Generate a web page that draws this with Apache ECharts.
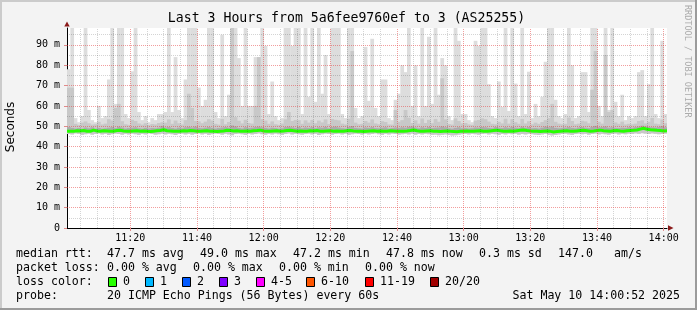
<!DOCTYPE html>
<html>
<head>
    <meta charset="utf-8">
    <title>SmokePing - Last 3 Hours</title>
    <script src="https://cdn.jsdelivr.net/npm/echarts@6/dist/echarts.min.js"></script>
    <style>html,body{margin:0;padding:0;background:#f3f3f3;}</style>
</head>
<body>
    <div id="main" style="width: 697px;height:310px;"></div>
    <script type="text/javascript">
        // one sample per minute, minutes counted from 11:00
        var firstMinute = 1;
        var tickMinutes = [20, 40, 60, 80, 100, 120, 140, 160, 180];
        var minorMinutes = [5, 10, 15, 25, 30, 35, 45, 50, 55, 65, 70, 75, 85, 90, 95, 105, 110, 115,
            125, 130, 135, 145, 150, 155, 165, 170, 175];
        var yTicks = [0, 10, 20, 30, 40, 50, 60, 70, 80, 90];
        var yMinor = [5, 15, 25, 35, 45, 55, 65, 75, 85, 95];

        // median rtt (ms)
        var median = [
            47.6,47.5,47.8,47.7,47.9,47.6,47.5,48.1,47.7,47.6,47.8,47.7,47.5,47.6,47.9,48.0,47.7,47.6,47.5,47.7,
            47.8,47.6,47.7,47.5,47.4,47.6,47.8,47.9,48.3,47.8,47.7,47.6,47.5,47.6,47.8,47.7,47.9,47.8,47.6,47.5,
            47.7,47.8,47.6,47.5,47.4,47.6,47.7,48.0,47.9,47.7,47.8,47.6,47.5,47.7,47.6,47.8,47.9,48.1,47.7,47.6,
            47.5,47.7,47.8,47.6,47.7,47.9,48.0,47.8,47.6,47.7,47.5,47.6,47.8,47.7,47.9,47.6,47.5,47.7,47.8,47.6,
            47.7,47.5,47.6,47.8,47.9,47.7,47.6,47.5,47.4,47.6,47.7,47.8,47.6,47.7,47.5,47.6,47.8,47.7,47.6,47.5,
            47.6,47.7,47.9,48.2,47.8,47.6,47.5,47.7,47.8,47.6,47.5,47.4,47.6,47.7,47.5,47.4,47.3,47.5,47.6,47.7,
            47.6,47.5,47.7,47.8,47.6,47.5,47.7,47.9,48.1,47.8,47.6,47.5,47.7,47.6,47.8,48.0,48.2,47.9,47.7,47.6,
            47.5,47.4,47.6,47.7,47.5,47.2,47.4,47.6,47.7,47.8,47.6,47.5,47.7,47.9,48.0,47.8,47.6,47.7,47.9,48.1,
            47.8,47.7,47.6,47.8,47.9,47.7,47.6,47.8,47.9,48.0,48.2,48.6,49.0,48.5,48.3,48.2,48.0,47.9,47.7,47.8
        ];
        // fastest ping of each round
        var minPing = [
            46.2,46.0,46.5,46.3,45.8,46.1,46.4,45.9,46.2,46.5,46.0,46.3,45.7,46.1,46.4,46.2,45.9,46.3,46.0,46.4,
            46.1,45.8,46.3,46.0,46.5,46.2,45.9,46.1,46.4,46.0,46.3,46.1,45.7,46.2,46.4,46.0,46.3,45.9,46.2,46.5,
            46.0,46.3,45.8,46.1,46.4,46.2,45.9,46.3,46.0,45.6,46.2,46.4,46.1,45.8,46.3,46.0,46.2,46.5,46.1,45.9,
            46.3,46.0,46.4,46.1,45.8,46.2,46.5,46.0,46.3,46.1,45.9,46.2,46.4,46.0,46.3,45.7,46.1,46.4,46.2,45.9,
            46.2,46.4,46.0,46.3,45.8,46.1,46.4,46.2,45.9,46.3,46.0,46.2,46.5,46.1,45.8,46.3,46.0,46.4,46.2,45.9,
            46.1,46.3,46.0,46.4,45.9,46.2,46.0,46.3,46.1,45.8,45.9,45.6,45.8,46.0,45.7,45.5,45.6,45.9,46.1,46.2,
            46.0,46.3,46.1,45.9,46.2,46.4,46.0,46.3,46.1,45.8,46.2,46.0,46.4,46.1,46.3,45.9,46.2,46.0,46.3,46.1,
            45.9,45.7,46.0,46.2,45.8,45.5,45.7,46.0,46.2,46.3,46.0,45.8,46.2,46.4,46.1,46.3,45.9,46.2,46.4,46.0,
            46.3,46.1,45.9,46.2,46.4,46.0,46.3,46.1,46.4,46.2,46.5,46.3,46.6,46.4,46.2,46.5,46.3,46.1,46.2,46.4
        ];
        // dense smoke just above the median
        var upperQ = [
            49.6,49.2,48.9,49.1,48.8,49.4,49.0,49.5,48.9,49.2,48.8,49.0,49.3,49.6,49.1,49.8,49.4,48.9,49.1,49.3,
            49.5,49.0,48.8,49.2,48.9,49.1,49.0,49.3,50.2,49.4,49.6,49.1,48.9,49.3,49.0,49.5,49.7,49.4,49.8,49.2,
            49.0,49.3,49.6,49.2,48.9,49.1,49.4,49.6,49.3,50.4,49.9,49.2,48.9,49.5,49.1,49.3,49.6,49.8,49.5,49.2,
            48.9,49.3,49.1,48.8,49.0,49.6,49.8,49.5,49.2,49.7,49.0,49.4,49.2,49.6,49.1,49.5,49.3,49.7,49.0,49.6,
            49.8,49.4,49.0,48.9,49.6,50.1,49.2,49.0,48.9,49.4,49.2,49.6,49.1,49.0,49.3,49.5,48.9,49.1,49.4,49.2,
            49.5,49.3,49.7,49.9,49.4,49.0,49.5,49.2,49.6,49.1,49.3,49.4,49.9,49.5,49.0,48.8,49.2,49.5,49.0,49.1,
            48.9,49.0,49.4,49.3,49.6,49.5,49.2,49.0,49.6,49.3,49.1,49.5,49.2,49.7,49.3,49.1,49.8,49.3,49.6,49.0,
            49.1,48.9,49.3,49.8,49.5,49.9,49.2,49.0,49.1,49.3,49.6,49.2,49.0,49.4,49.6,49.3,49.1,49.7,50.2,49.5,
            49.6,49.9,49.3,49.5,49.2,49.1,49.3,49.2,49.5,49.3,49.6,49.8,50.3,49.9,49.7,49.5,49.4,49.6,50.1,49.5
        ];
        // second-slowest ping (darker smoke)
        var midPing = [
            69,69,51.2,50.6,51.8,52.4,51.5,50.8,51.0,52.2,50.9,51.3,53.5,52.8,59,61,52.5,51.0,50.7,53.2,
            52.6,51.4,50.8,51.5,50.6,51.1,50.9,51.6,52.0,51.8,53.4,51.2,52.8,51.5,50.9,53.0,66,59,52.6,52.4,
            51.5,52.3,53.5,52.8,51.2,50.8,53.6,51.0,52.1,99,54.5,52.7,51.4,53.2,51.6,51.3,60,84,53.5,52.8,
            51.2,52.4,51.0,50.7,51.3,53.4,57,52.6,53.1,53.0,51.2,52.9,51.8,53.1,51.5,52.8,51.9,53.4,51.1,53.6,
            53.2,52.9,51.3,50.9,53.7,87,51.8,51.0,51.2,52.6,51.8,53.4,51.4,51.0,52.5,52.1,50.9,50.8,58,52.2,
            53.0,58,54.2,51.6,52.9,51.3,53.8,51.6,53.2,51.5,53.6,52.2,73.6,53.4,51.1,50.8,53.9,52.6,51.4,51.6,
            50.9,50.7,52.8,53.1,53.9,53.5,52.3,51.2,51.0,52.2,51.4,53.7,51.3,53.5,52.0,51.2,53.6,51.4,52.5,51.0,
            51.8,51.2,52.1,53.0,54.0,61,52.2,51.3,51.0,51.2,54.3,52.6,51.0,51.3,52.7,52.4,51.5,68,87,52.2,
            51.3,85,57,58,51.9,51.2,52.3,50.9,51.2,51.0,51.3,52.6,52.9,51.4,52.2,54.1,51.3,51.0,53.3,51.5
        ];
        // slowest ping of each round (99 = off the top of the graph)
        var maxPing = [
            78,99,54,52,55,99,58,53,52,60,54,55,73,99,61,99,99,56,54,77,
            99,57,53,55,52,54,53,56,56,57,99,57,84,58,54,73,99,99,99,69,
            60,63,99,99,57,54,95,55,65.5,99,99,83.5,60,99,60,60,84,84,99,89.5,
            56,72,55,53,54,99,99,89.5,99,99,56,99,64.5,99,62,99,66,85,56,99,
            99,99,56,54,99,99,59,54,55,89,62.5,93,59,55,73,73,54,53,63,66,
            80,76.6,99,60,80,55,99,60,94,61,99,65.5,83.5,80,55,53,99,92,56,56,
            53,52,92,89.5,99,99,70.7,55,54,72,59.5,99,57.5,99,71,55,99,56,76.8,54,
            61,55,64.5,81.7,99,99,63,55,54,56,99,80,54,55,76.6,76.6,57,99,99,60,
            55,99,58,99,62,55,65.5,53,55,54,55,76.6,77.6,55,70.7,99,56,54,92,56
        ];

        var monoFont = "'DejaVu Sans Mono', monospace";

        function smokeData(lo, hi) {
            var arr = [];
            for (var i = 0; i < hi.length; i++) {
                arr.push([firstMinute + i, firstMinute + i + 1, lo[i], hi[i]]);
            }
            return arr;
        }

        function smokeItem(params, api) {
            var p0 = api.coord([api.value(0), api.value(3)]);
            var p1 = api.coord([api.value(1), api.value(2)]);
            var rect = echarts.graphic.clipRectByRect({
                x: p0[0], y: p0[1], width: p1[0] - p0[0] + 0.4, height: p1[1] - p0[1]
            }, {
                x: params.coordSys.x, y: params.coordSys.y,
                width: params.coordSys.width, height: params.coordSys.height
            });
            return rect && { type: 'rect', shape: rect, style: api.style() };
        }

        function gridLines(values, axis, color) {
            return values.map(function (v) {
                var d = { lineStyle: { color: color, type: [1, 1], width: 1 } };
                d[axis] = v;
                return d;
            });
        }

        var medianLine = median.map(function (v, i) { return [firstMinute + i, v]; });
        medianLine.push([firstMinute + median.length, median[median.length - 1]]);

        function txt(x, y, text, extra) {
            var st = { text: text, fill: '#000', font: '11.6px ' + monoFont, verticalAlign: 'middle' };
            for (var k in extra) st[k] = extra[k];
            return { type: 'text', x: x, y: y, silent: true, style: st };
        }

        // loss colour legend
        var lossLabels = ['0', '1', '2', '3', '4-5', '6-10', '11-19', '20/20'];
        var lossColors = ['#26ff00', '#00b8ff', '#0059ff', '#7e00ff', '#ff00ff', '#ff5500', '#ff0000', '#a10000'];
        var lossBoxX = [108.5, 145.5, 182.5, 219.5, 256.5, 306.5, 365.5, 430.5];

        var graphics = [
            { type: 'rect', shape: { x: 0, y: 0, width: 697, height: 2 }, style: { fill: '#cbcbcb' }, silent: true },
            { type: 'rect', shape: { x: 0, y: 0, width: 2, height: 310 }, style: { fill: '#cbcbcb' }, silent: true },
            { type: 'rect', shape: { x: 0, y: 308, width: 697, height: 2 }, style: { fill: '#9b9b9b' }, silent: true },
            { type: 'rect', shape: { x: 695, y: 0, width: 2, height: 310 }, style: { fill: '#9b9b9b' }, silent: true },
            txt(346.5, 19, 'Last 3 Hours from 5a6fee9760ef to 3 (AS25255)', { font: '13.2px ' + monoFont, align: 'center' }),
            { type: 'text', x: 11, y: 127, rotation: Math.PI / 2, silent: true,
              style: { text: 'Seconds', fill: '#000', font: "12px 'DejaVu Sans'", align: 'center', verticalAlign: 'middle' } },
            { type: 'text', x: 687.5, y: 5, rotation: -Math.PI / 2, silent: true,
              style: { text: 'RRDTOOL / TOBI OETIKER', fill: '#ababab', font: '8.5px ' + monoFont, align: 'left', verticalAlign: 'middle' } },
            // axis arrows
            { type: 'polygon', shape: { points: [[64.3, 26.5], [67, 21.5], [69.7, 26.5]] }, style: { fill: '#8b1a1a' }, silent: true },
            { type: 'polygon', shape: { points: [[668, 225.3], [673.5, 228], [668, 230.7]] }, style: { fill: '#8b1a1a' }, silent: true },
            // statistics
            txt(16, 254, 'median rtt:'),
            txt(107, 254, '47.7 ms avg'),
            txt(200, 254, '49.0 ms max'),
            txt(293, 254, '47.2 ms min'),
            txt(386, 254, '47.8 ms now'),
            txt(479, 254, '0.3 ms sd'),
            txt(558, 254, '147.0'),
            txt(614, 254, 'am/s'),
            txt(16, 268, 'packet loss:'),
            txt(107, 268, '0.00 % avg'),
            txt(193, 268, '0.00 % max'),
            txt(279, 268, '0.00 % min'),
            txt(365, 268, '0.00 % now'),
            txt(16, 282, 'loss color:'),
            txt(16, 296, 'probe:'),
            txt(107, 296, '20 ICMP Echo Pings (56 Bytes) every 60s'),
            txt(680, 296, 'Sat May 10 14:00:52 2025', { align: 'right' })
        ];
        for (var i = 0; i < lossLabels.length; i++) {
            graphics.push({ type: 'rect', silent: true, shape: { x: lossBoxX[i], y: 277.5, width: 8, height: 9 },
                style: { fill: lossColors[i], stroke: '#000', lineWidth: 1 } });
            graphics.push(txt(lossBoxX[i] + 14.5, 282, lossLabels[i]));
        }

        var myChart = echarts.init(document.getElementById('main'));
        var option = {
            backgroundColor: '#f3f3f3',
            animation: false,
            grid: { left: 67, top: 28, width: 600, height: 200, show: true, backgroundColor: '#ffffff', borderWidth: 0 },
            xAxis: {
                type: 'value', min: 1, max: 181,
                splitLine: { show: false },
                axisLine: { onZero: false, lineStyle: { color: '#000', width: 1 } },
                axisTick: { customValues: tickMinutes, length: 3, lineStyle: { color: '#e08a8a' } },
                axisLabel: {
                    customValues: tickMinutes, margin: 5, color: '#000', fontSize: 10, fontFamily: monoFont,
                    formatter: function (v) {
                        var h = 11 + Math.floor(v / 60), m = v % 60;
                        return h + ':' + (m < 10 ? '0' + m : m);
                    }
                }
            },
            yAxis: {
                type: 'value', min: 0, max: 98.3,
                splitLine: { show: false },
                axisLine: { show: true, onZero: false, lineStyle: { color: '#000', width: 1 } },
                axisTick: { show: true, customValues: yTicks, length: 3, lineStyle: { color: '#e08a8a' } },
                axisLabel: {
                    customValues: yTicks, margin: 7, color: '#000', fontSize: 10, fontFamily: monoFont,
                    formatter: function (v) { return v === 0 ? '0' : v + ' m'; }
                }
            },
            series: [
                { type: 'custom', name: 'smoke', renderItem: smokeItem, z: 2, silent: true,
                  itemStyle: { color: '#dddddd' }, encode: { x: [0, 1], y: [2, 3] },
                  data: smokeData(minPing, maxPing) },
                { type: 'custom', name: 'smoke2', renderItem: smokeItem, z: 2, silent: true,
                  itemStyle: { color: '#c8c8c8' }, encode: { x: [0, 1], y: [2, 3] },
                  data: smokeData(minPing, midPing) },
                { type: 'custom', name: 'smoke3', renderItem: smokeItem, z: 2, silent: true,
                  itemStyle: { color: '#ababab' }, encode: { x: [0, 1], y: [2, 3] },
                  data: smokeData(median, upperQ) },
                { type: 'line', name: 'grid', data: [], z: 3, silent: true,
                  markLine: {
                      silent: true, symbol: 'none', label: { show: false }, animation: false,
                      data: gridLines(minorMinutes, 'xAxis', 'rgba(0,0,0,0.17)')
                          .concat(gridLines(yMinor, 'yAxis', 'rgba(0,0,0,0.17)'))
                          .concat(gridLines(tickMinutes, 'xAxis', 'rgba(230,60,60,0.5)'))
                          .concat(gridLines(yTicks.slice(1), 'yAxis', 'rgba(230,60,60,0.5)'))
                  } },
                { type: 'line', name: 'median rtt', data: medianLine, step: 'end', z: 4, silent: true,
                  showSymbol: false, lineStyle: { color: '#26ff00', width: 3 } }
            ],
            graphic: graphics
        };
        myChart.setOption(option);
    </script>
</body>
</html>
